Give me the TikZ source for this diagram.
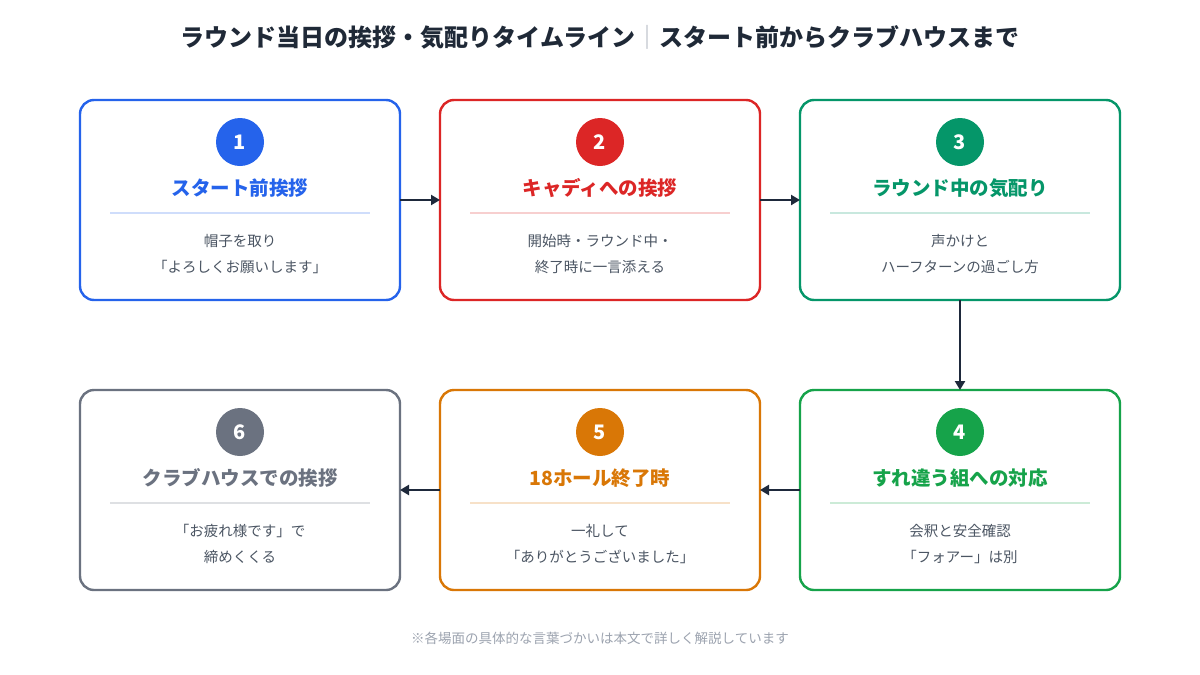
\documentclass[tikz,border=0pt]{standalone}
\usepackage{fontspec}
\setmainfont{Noto Sans CJK JP}
\usepackage{tikz}
\usetikzlibrary{arrows.meta,positioning,calc}

\definecolor{ink}{HTML}{1F2937}
\definecolor{arrowc}{HTML}{1E293B}
\definecolor{bodyc}{HTML}{4B5563}
\definecolor{notec}{HTML}{9CA3AF}
\definecolor{cblue}{HTML}{2563EB}
\definecolor{cred}{HTML}{DC2626}
\definecolor{cteal}{HTML}{059669}
\definecolor{cgreen}{HTML}{16A34A}
\definecolor{corange}{HTML}{D97706}
\definecolor{cgray}{HTML}{6B7280}

\begin{document}
\begin{tikzpicture}[x=1pt, y=-1pt,
  stagebox/.style={draw, line width=2.4pt, rounded corners=14pt, fill=white, outer sep=0pt, minimum width=320pt, minimum height=200pt},
  numdot/.style={circle, minimum size=48pt, inner sep=0pt, text=white, font=\fontsize{20}{24}\selectfont\bfseries},
  stagetitle/.style={font=\fontsize{19.5}{24}\selectfont\bfseries},
  stagebody/.style={text=bodyc, align=center, font=\fontsize{14.5}{26}\selectfont},
  flow/.style={-{Triangle[length=9pt,width=10pt]}, line width=2.4pt, draw=arrowc}]
\useasboundingbox[fill=white] (0,0) rectangle (1200,675);

\node[font=\fontsize{24}{28}\selectfont\bfseries, text=ink] (title) at (600,37)
  {ラウンド当日の挨拶・気配りタイムライン{\color{notec!80}\mdseries｜}スタート前からクラブハウスまで};

% top row
\node[stagebox, draw=cblue] (s1) at (240,200) {};
\node[stagebox, draw=cred, right=40pt of s1] (s2) {};
\node[stagebox, draw=cteal, right=40pt of s2] (s3) {};
% bottom row
\node[stagebox, draw=cgreen, below=90pt of s3] (s4) {};
\node[stagebox, draw=corange, left=40pt of s4] (s5) {};
\node[stagebox, draw=cgray, left=40pt of s5] (s6) {};

\foreach \s/\c/\num/\ttl/\txt in {
  s1/cblue/1/{スタート前挨拶}/{帽子を取り\\「よろしくお願いします」},
  s2/cred/2/{キャディへの挨拶}/{開始時・ラウンド中・\\終了時に一言添える},
  s3/cteal/3/{ラウンド中の気配り}/{声かけと\\ハーフターンの過ごし方},
  s4/cgreen/4/{すれ違う組への対応}/{会釈と安全確認\\「フォアー」は別},
  s5/corange/5/{18ホール終了時}/{一礼して\\「ありがとうございました」},
  s6/cgray/6/{クラブハウスでの挨拶}/{「お疲れ様です」で\\締めくくる}}
{
  \node[numdot, fill=\c] (\s-num) at ($(\s.north)+(0,42)$) {\num};
  \node[stagetitle, text=\c] (\s-title) at ($(\s.north)+(0,88)$) {\ttl};
  \draw[\c!22, line width=1.5pt] ($(\s.north)+(-130,113)$) -- ($(\s.north)+(130,113)$);
  \node[stagebody] (\s-body) at ($(\s.north)+(0,154)$) {\txt};
}

\draw[flow] (s1) -- (s2);
\draw[flow] (s2) -- (s3);
\draw[flow] (s3) -- (s4);
\draw[flow] (s4) -- (s5);
\draw[flow] (s5) -- (s6);

\node[text=notec, font=\fontsize{13.5}{16}\selectfont] (note) at (600,638)
  {※各場面の具体的な言葉づかいは本文で詳しく解説しています};
\end{tikzpicture}
\end{document}
